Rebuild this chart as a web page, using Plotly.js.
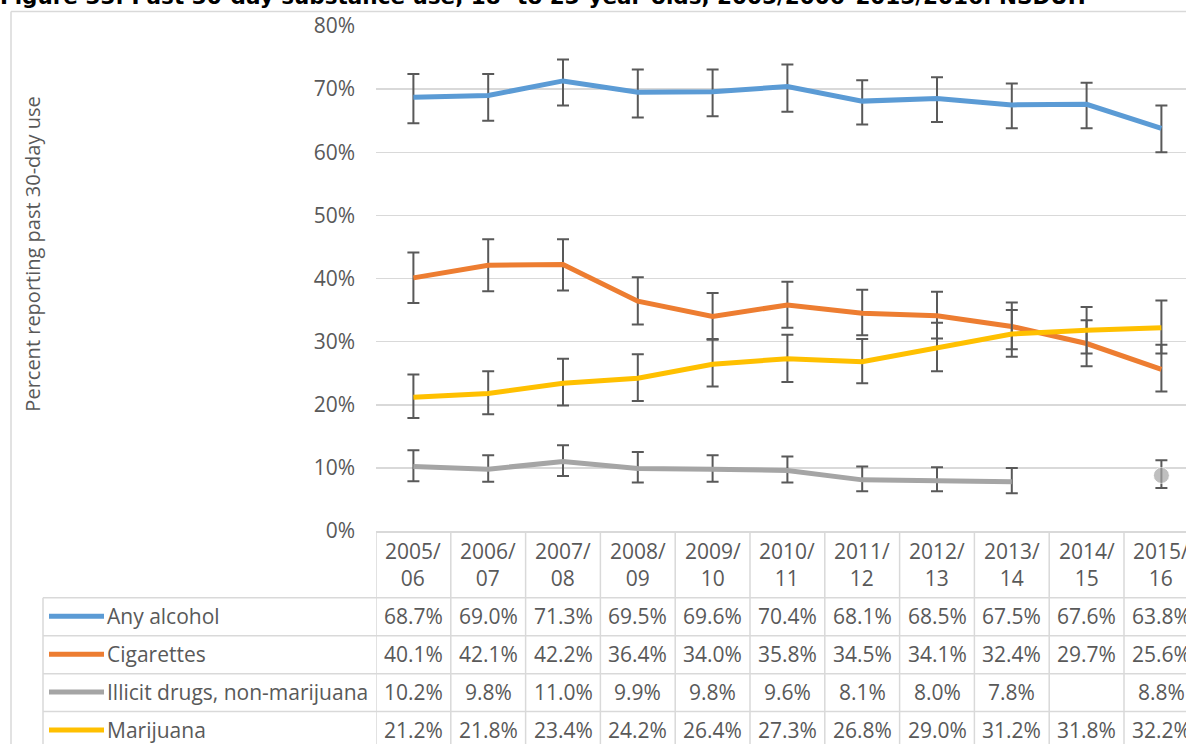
<!DOCTYPE html>
<html>
<head>
<meta charset="utf-8">
<script src="https://cdn.plot.ly/plotly-3.0.1.min.js"></script>
<style>html,body{margin:0;padding:0;background:#fff;}#chart{width:1186px;height:744px;}</style>
</head>
<body>
<div id="chart"></div>
<script>
// ---------- DATA ----------
const categories = ["2005/06","2006/07","2007/08","2008/09","2009/10","2010/11","2011/12","2012/13","2013/14","2014/15","2015/16"];
const seriesNames = ["Any alcohol","Cigarettes","Illicit drugs, non-marijuana","Marijuana"];

const alcohol    = [68.7, 69.0, 71.3, 69.5, 69.6, 70.4, 68.1, 68.5, 67.5, 67.6, 63.8];
const cigarettes = [40.1, 42.1, 42.2, 36.4, 34.0, 35.8, 34.5, 34.1, 32.4, 29.7, 25.6];
const illicit    = [10.2, 9.8, 11.0, 9.9, 9.8, 9.6, 8.1, 8.0, 7.8, null, 8.8];
const marijuana  = [21.2, 21.8, 23.4, 24.2, 26.4, 27.3, 26.8, 29.0, 31.2, 31.8, 32.2];

// confidence interval bounds
const alcoholUpper    = [72.4, 72.4, 74.7, 73.1, 73.1, 73.9, 71.4, 71.9, 70.9, 71.0, 67.4];
const alcoholLower    = [64.6, 65.0, 67.4, 65.5, 65.7, 66.4, 64.4, 64.8, 63.8, 63.8, 60.0];
const cigarettesUpper = [44.1, 46.2, 46.2, 40.2, 37.7, 39.5, 38.2, 37.9, 36.2, 33.4, 29.5];
const cigarettesLower = [36.1, 38.0, 38.1, 32.7, 30.3, 32.2, 31.0, 30.5, 28.8, 26.1, 22.1];
const illicitUpper    = [12.8, 12.0, 13.6, 12.5, 12.0, 11.8, 10.2, 10.1, 10.0, null, 11.2];
const illicitLower    = [7.9, 7.8, 8.7, 7.7, 7.8, 7.7, 6.3, 6.3, 6.0, null, 6.8];
const marijuanaUpper  = [24.8, 25.3, 27.3, 28.0, 30.4, 31.1, 30.4, 33.0, 35.0, 35.5, 36.5];
const marijuanaLower  = [17.9, 18.5, 19.9, 20.6, 22.9, 23.6, 23.4, 25.3, 27.6, 28.1, 28.1];

const yTicks = [0, 10, 20, 30, 40, 50, 60, 70, 80];
const titleText = "Figure 33: Past 30-day substance use, 18- to 25-year-olds, 2005/2006\u20132015/2016: NSDUH";
const yTitleText = "Percent reporting past 30-day use";

// ---------- STYLE / LAYOUT HELPERS ----------
const colors = ["#5b9bd5", "#ed7d31", "#a5a5a5", "#ffc000"];
const values = [alcohol, cigarettes, illicit, marijuana];
const uppers = [alcoholUpper, cigarettesUpper, illicitUpper, marijuanaUpper];
const lowers = [alcoholLower, cigarettesLower, illicitLower, marijuanaLower];

const W = 1186, H = 744;
const PL = 376, PR = 1186, PT = 25.6, PB = 531.2;
const colW = 74.8;
const fx = p => (p - PL) / (PR - PL);      // pixel x -> paper x
const fy = p => (PB - p) / (PB - PT);      // pixel y -> paper y
const textColor = "#595959";
const gridColor = "#d9d9d9";
const FONT = "Open Sans";
const FS = 21;

const traces = values.map((vals, k) => {
  const up = uppers[k], lo = lowers[k];
  const isolated = vals.map((v, i) => v !== null &&
    (i === 0 || vals[i-1] === null) && (i === vals.length-1 || vals[i+1] === null));
  return {
    type: "scatter",
    x: categories,
    y: vals,
    name: seriesNames[k],
    mode: isolated.some(Boolean) ? "lines+markers" : "lines",
    line: {color: colors[k], width: 5},
    marker: {color: colors[k], size: isolated.map(b => b ? 16 : 0)},
    error_y: {
      type: "data", symmetric: false,
      array: vals.map((v, i) => v === null ? null : +(up[i] - v).toFixed(2)),
      arrayminus: vals.map((v, i) => v === null ? null : +(v - lo[i]).toFixed(2)),
      color: "#595959", thickness: 2, width: 6
    },
    connectgaps: false,
    hoverinfo: "skip"
  };
});

const shapes = [];
const annotations = [];
const gl = (x0, y0, x1, y1, xref, color, w) => shapes.push({
  type: "line", xref: xref, yref: "paper", x0: x0, x1: x1, y0: y0, y1: y1,
  line: {color: color || gridColor, width: w || 1.5}, layer: "above"
});

// chart frame
gl(fx(11), fy(11), fx(11), fy(760), "paper");
gl(fx(11), fy(11), fx(1200), fy(11), "paper");

// data table grid
for (let i = 0; i <= categories.length; i++) {
  gl(i - 0.5, fy(532), i - 0.5, fy(760), "x");
}
gl(fx(43), fy(598), fx(43), fy(760), "paper");
[598, 636, 674, 712].forEach(p => gl(fx(43), fy(p), fx(1200), fy(p), "paper"));

// header row labels
categories.forEach((c, i) => {
  const parts = c.split("/");
  annotations.push({
    xref: "x", yref: "paper", x: i, y: fy(564.5), text: parts[0] + "/<br>" + parts[1],
    showarrow: false, xanchor: "center", yanchor: "middle", align: "center",
    font: {family: FONT, size: FS, color: textColor}, borderpad: 0
  });
});

// table rows
const rowY = [616.5, 654.5, 692.5, 730.5];
seriesNames.forEach((nm, k) => {
  shapes.push({type: "line", xref: "paper", yref: "paper",
    x0: fx(49), x1: fx(104), y0: fy(rowY[k]), y1: fy(rowY[k]),
    line: {color: colors[k], width: 5}, layer: "above"});
  annotations.push({
    xref: "paper", yref: "paper", x: fx(106), y: fy(rowY[k]), text: nm,
    showarrow: false, xanchor: "left", yanchor: "middle",
    font: {family: FONT, size: FS, color: textColor}, borderpad: 0
  });
  values[k].forEach((v, i) => {
    if (v === null) return;
    annotations.push({
      xref: "x", yref: "paper", x: i, y: fy(rowY[k]), text: v.toFixed(1) + "%",
      showarrow: false, xanchor: "center", yanchor: "middle",
      font: {family: FONT, size: FS, color: textColor}, borderpad: 0
    });
  });
});

// y axis title
annotations.push({
  xref: "paper", yref: "paper", x: fx(33), y: fy(254.5), text: yTitleText,
  textangle: -90, showarrow: false, xanchor: "center", yanchor: "middle",
  font: {family: FONT, size: 20, color: textColor}
});

const layout = {
  width: W, height: H,
  margin: {l: PL, r: 0, t: PT, b: H - PB, pad: 0},
  paper_bgcolor: "#ffffff", plot_bgcolor: "#ffffff",
  showlegend: false,
  title: {
    text: titleText, xref: "container", yref: "container",
    x: 0, xanchor: "left", y: 1 - 4 / H, yanchor: "bottom",
    pad: {l: 0, r: 0, t: 0, b: 0},
    font: {family: "DejaVu Sans", size: 21.5, color: "#000000", weight: "bold"}
  },
  xaxis: {
    type: "category", range: [-0.5, -0.5 + (PR - PL) / colW],
    showgrid: false, showticklabels: false, ticks: "",
    showline: true, linecolor: gridColor, linewidth: 1.5, zeroline: false, fixedrange: true
  },
  yaxis: {
    range: [0, 80], tickvals: yTicks, ticktext: yTicks.map(t => t + "%"),
    showgrid: true, gridcolor: gridColor, gridwidth: 1.5, zeroline: false, showline: false,
    ticks: "", ticklabelstandoff: 20,
    tickfont: {family: FONT, size: FS, color: textColor}, fixedrange: true
  },
  shapes: shapes,
  annotations: annotations
};

Plotly.newPlot("chart", traces, layout, {displayModeBar: false, staticPlot: true});
</script>
</body>
</html>
